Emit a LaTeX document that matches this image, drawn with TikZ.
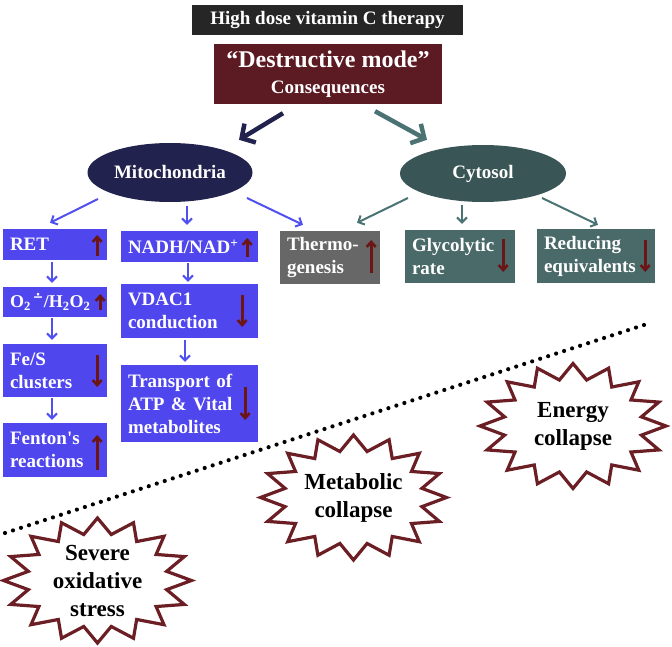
\documentclass[tikz,border=0pt]{standalone}
\usepackage{fontspec}
\setmainfont{Liberation Serif}[Ligatures=TeXOff]
\newfontfamily\symfont{DejaVu Sans}
\usetikzlibrary{arrows.meta,calc,shapes.geometric}
\definecolor{titlebg}{HTML}{262626}
\definecolor{destbg}{HTML}{5C1A22}
\definecolor{mitobg}{HTML}{22224E}
\definecolor{cytobg}{HTML}{3A5555}
\definecolor{bluebox}{HTML}{5046EE}
\definecolor{bluearr}{HTML}{5050F0}
\definecolor{graybox}{HTML}{676767}
\definecolor{tealbox}{HTML}{4A6A6A}
\definecolor{tealarr}{HTML}{4B7373}
\definecolor{redarr}{HTML}{6B1515}
\definecolor{starcol}{HTML}{6B1F25}
\newcommand\burst[3]{%
  \draw[starline,shift={(#1)}] plot[samples=33,domain=0:32,variable=\k]
    ({#2*(1-0.25*mod(round(\k),2))*cos(90+11.25*\k)},{#3*(1-0.25*mod(round(\k),2))*sin(90+11.25*\k)}) -- cycle;}
\begin{document}
\begin{tikzpicture}[x=1pt,y=-1pt,
  boxtxt/.style={font=\fontsize{19}{23}\selectfont\bfseries},
  bbox/.style={boxtxt,rectangle,fill=bluebox,text=white,align=left,inner xsep=7pt,inner ysep=0pt},
  gbox/.style={bbox,fill=graybox},
  tbox/.style={bbox,fill=tealbox},
  ell/.style={ellipse,boxtxt,text=white,inner sep=0pt},
  barrow/.style={draw=bluearr,line width=2pt,-{Straight Barb[length=5pt,width=10pt]}},
  tarrow/.style={draw=tealarr,line width=2pt,-{Straight Barb[length=5pt,width=10pt]}},
  rarrow/.style={draw=redarr,line width=2.6pt,-{Straight Barb[length=5pt,width=9pt]}},
  bigarrow/.style={line width=4.5pt,-{Straight Barb[length=10pt,width=22pt]}},
  starline/.style={draw=starcol,fill=white,line width=3.2pt,line join=miter},
  startext/.style={font=\fontsize{23}{28}\selectfont\bfseries,align=center,inner sep=0pt},
  dotline/.style={line width=4.2pt,line cap=round,dash pattern=on 0pt off 8.4pt}
]
\useasboundingbox (0,0) rectangle (672,647);

% header
\node[rectangle,fill=titlebg,text=white,boxtxt,minimum width=271pt,minimum height=30pt,inner sep=0pt] (title) at (327.5,20) {High dose vitamin C therapy};
\node[rectangle,fill=destbg,text=white,font=\fontsize{24}{26}\selectfont\bfseries,align=center,minimum width=228pt,minimum height=60pt,inner sep=0pt] (dest) at (328,74)
  {“Destructive mode”\\{\fontsize{19}{26}\selectfont Consequences}};

% ellipses
\node[ell,fill=mitobg,minimum width=165pt,minimum height=59pt] (mito) at (170,172.5) {Mitochondria};
\node[ell,fill=cytobg,minimum width=166pt,minimum height=57pt] (cyto) at (483,173.5) {Cytosol};

\draw[bigarrow,draw=mitobg] ($(dest.south)+(-45,9)$) -- ($(mito.north)+(69,-3)$);
\draw[bigarrow,draw=tealarr] ($(dest.south)+(47,7)$) -- ($(cyto.north)+(-56,-5)$);

% mitochondria boxes
\node[bbox,text width=90pt,minimum height=31pt] (ret) at (55,244.5) {RET};
\node[bbox,text width=90pt,minimum height=30pt] (o2) at (55,302) {{\fontsize{18}{23}\selectfont O\textsubscript{2}\kern2pt\textsuperscript{\symfont ∸}/H\textsubscript{2}O\textsubscript{2}}};
\node[bbox,text width=90pt,minimum height=53pt] (fes) at (55,370.5) {Fe/S\\clusters};
\node[bbox,text width=90pt,minimum height=54pt] (fen) at (55,450) {Fenton's\\reactions};
\node[bbox,text width=123pt,minimum height=31pt] (nadh) at (189.5,246.5) {NADH/NAD\textsuperscript{+}};
\node[bbox,text width=123pt,minimum height=54pt] (vdac) at (189.5,311) {VDAC1\\conduction};
\node[bbox,text width=123pt,minimum height=77pt] (trans) at (189.5,403.5) {Transport of\\ATP \& Vital\\metabolites};
\node[gbox,text width=86pt,minimum height=53pt] (thermo) at (330,257.5) {Thermo-\\genesis};
\node[tbox,text width=96pt,minimum height=53pt] (glyc) at (460,256.5) {Glycolytic\\rate};
\node[tbox,text width=104pt,minimum height=54pt] (redu) at (596,256) {Reducing\\equivalents};

% connectors from ellipses
\draw[barrow] ($(mito.center)+(-72,26.5)$) -- ($(ret.north)+(-5,-6)$);
\draw[barrow] ($(mito.center)+(17,33.5)$) -- ($(nadh.north)+(-2.5,-6)$);
\draw[barrow] ($(mito.center)+(77,25.5)$) -- ($(thermo.north)+(-27,-6)$);
\draw[tarrow] ($(cyto.center)+(-75,24.5)$) -- ($(thermo.north)+(27,-8)$);
\draw[tarrow] ($(cyto.center)+(-21,31.5)$) -- ($(glyc.north)+(2,-6)$);
\draw[tarrow] ($(cyto.center)+(59,24.5)$) -- ($(redu.north)+(2,-4)$);

% chains
\draw[barrow] ($(ret.south)+(-3,2)$) -- ($(o2.north)+(-3,-4)$);
\draw[barrow] ($(o2.south)+(-3,1)$) -- ($(fes.north)+(-3,-4)$);
\draw[barrow] ($(fes.south)+(-3,1)$) -- ($(fen.north)+(-3,-3)$);
\draw[barrow] ($(nadh.south)+(-1.5,1)$) -- ($(vdac.north)+(-1.5,-2)$);
\draw[barrow] ($(vdac.south)+(-4.5,2)$) -- ($(trans.north)+(-4.5,-3)$);

% up / down indicators
\draw[rarrow] ($(ret.east)+(-10,11.5)$) -- ($(ret.east)+(-10,-9.5)$);
\draw[rarrow] ($(o2.east)+(-7,8)$) -- ($(o2.east)+(-7,-8)$);
\draw[rarrow] ($(fes.east)+(-10,-15.5)$) -- ($(fes.east)+(-10,16.5)$);
\draw[rarrow] ($(fen.east)+(-10,20)$) -- ($(fen.east)+(-10,-15)$);
\draw[rarrow] ($(nadh.east)+(-11,10.5)$) -- ($(nadh.east)+(-11,-8.5)$);
\draw[rarrow] ($(vdac.east)+(-16,-16)$) -- ($(vdac.east)+(-16,16)$);
\draw[rarrow] ($(trans.east)+(-13,-16.5)$) -- ($(trans.east)+(-13,16.5)$);
\draw[rarrow] ($(thermo.east)+(-9,15.5)$) -- ($(thermo.east)+(-9,-17.5)$);
\draw[rarrow] ($(glyc.east)+(-12,-17.5)$) -- ($(glyc.east)+(-12,15.5)$);
\draw[rarrow] ($(redu.east)+(-10,-16)$) -- ($(redu.east)+(-10,16)$);

% dotted divider
\coordinate (dl1) at (5,533);
\coordinate (dl2) at (650,323);
\draw[dotline] (dl1) -- (dl2);

% bursts
\coordinate (ec) at (573,426);
\coordinate (mc) at (353.5,497.5);
\coordinate (sc) at (97.5,580.5);
\burst{ec}{93}{62.5}
\burst{mc}{93}{62.5}
\burst{sc}{94}{62.5}
\node[startext] (energy) at (ec) {Energy\\collapse};
\node[startext] (metab) at (mc) {Metabolic\\collapse};
\node[startext] (severe) at (sc) {Severe\\oxidative\\stress};
\end{tikzpicture}
\end{document}
